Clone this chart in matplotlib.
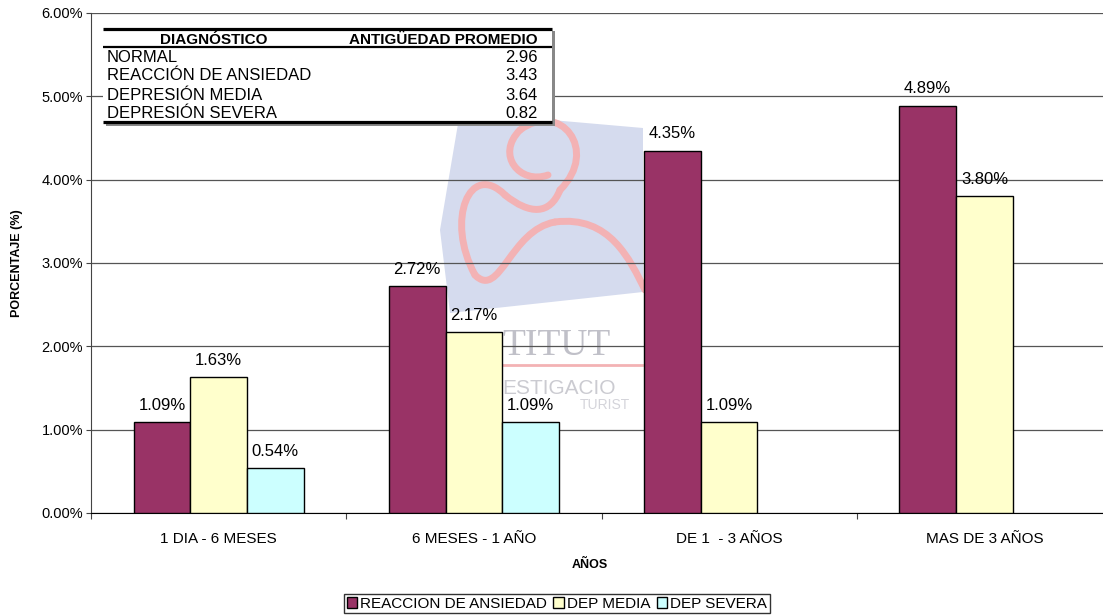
import numpy as np
import matplotlib.pyplot as plt
from matplotlib.patches import Polygon, Rectangle, PathPatch
from matplotlib.path import Path
from matplotlib.ticker import FuncFormatter, FixedLocator

plt.rcParams['font.family'] = ['Liberation Sans', 'DejaVu Sans']

# datos
categorias = ['1 DIA - 6 MESES', '6 MESES - 1 AÑO', 'DE 1  - 3 AÑOS', 'MAS DE 3 AÑOS']
reaccion_ansiedad = [1.09, 2.72, 4.35, 4.89]
dep_media = [1.63, 2.17, 1.09, 3.80]
dep_severa = [0.54, 1.09, np.nan, np.nan]
series_nombres = ['REACCION DE ANSIEDAD', 'DEP MEDIA', 'DEP SEVERA']
colores = ['#993366', '#FFFFCC', '#CCFFFF']

diagnosticos = ['NORMAL', 'REACCIÓN DE ANSIEDAD', 'DEPRESIÓN MEDIA', 'DEPRESIÓN SEVERA']
antiguedad = [2.96, 3.43, 3.64, 0.82]

W, H = 1103, 616
fig = plt.figure(figsize=(W / 100, H / 100), dpi=100)

# fondo con marca de agua (coordenadas en pixeles)
bg = fig.add_axes([0, 0, 1, 1], zorder=0)
bg.set_xlim(0, W)
bg.set_ylim(H, 0)
bg.axis('off')
bg.add_patch(Polygon([(460, 112), (643, 128), (643, 292), (450, 313), (440, 230)],
                     closed=True, fc='#d5dbee', ec='none'))
rosa = '#f3b2b4'
curvas = [
    [(Path.MOVETO, (560, 190)), (Path.CURVE4, (600, 150)), (Path.CURVE4, (560, 100)),
     (Path.CURVE4, (520, 130))],
    [(Path.MOVETO, (520, 130)), (Path.CURVE4, (495, 155)), (Path.CURVE4, (520, 185)),
     (Path.CURVE4, (548, 175))],
    [(Path.MOVETO, (560, 190)), (Path.CURVE4, (550, 215)), (Path.CURVE4, (530, 215)),
     (Path.CURVE4, (505, 195))],
    [(Path.MOVETO, (505, 195)), (Path.CURVE4, (470, 160)), (Path.CURVE4, (445, 220)),
     (Path.CURVE4, (475, 275))],
    [(Path.MOVETO, (475, 275)), (Path.CURVE4, (500, 300)), (Path.CURVE4, (510, 230)),
     (Path.CURVE4, (555, 222))],
    [(Path.MOVETO, (555, 222)), (Path.CURVE4, (610, 215)), (Path.CURVE4, (630, 260)),
     (Path.CURVE4, (645, 290))],
]
for c in curvas:
    codes, verts = zip(*c)
    bg.add_patch(PathPatch(Path(verts, codes), fc='none', ec=rosa, lw=5,
                           capstyle='round', joinstyle='round'))
bg.text(502, 346, 'TITUT', family='Liberation Serif', fontsize=27, color='#c0c0c8',
        ha='left', va='center')
bg.plot([500, 642], [365, 365], color=rosa, lw=2)
bg.text(502, 388, 'ESTIGACIO', fontsize=15, color='#cbcbd1', ha='left', va='center')
bg.text(580, 405, 'TURIST', fontsize=10, color='#d4d4da', ha='left', va='center')

# grafico principal
ax = fig.add_axes([91 / W, (H - 513) / H, (1112 - 91) / W, 500 / H], zorder=1)
ax.patch.set_alpha(0)

x = np.arange(len(categorias))
ancho = 1 / 4.5
for i, (vals, nombre, col) in enumerate(zip([reaccion_ansiedad, dep_media, dep_severa],
                                              series_nombres, colores)):
    pos = x + (i - 1) * ancho
    ax.bar(pos, vals, ancho, color=col, edgecolor='black', linewidth=1,
           label=nombre, zorder=3)
    for xp, v in zip(pos, vals):
        if not np.isnan(v):
            ax.annotate(f'{v:.2f}%', (xp, v), xytext=(0, 6.5), textcoords='offset points',
                        ha='center', va='bottom', fontsize=12, zorder=4)

ax.set_xlim(-0.5, len(categorias) - 0.5)
ax.set_ylim(0, 6)
ax.set_yticks(np.arange(0, 7, 1))
ax.yaxis.set_major_formatter(FuncFormatter(lambda v, p: f'{v:.2f}%'))
ax.yaxis.grid(True, color='#555555', linewidth=0.9, zorder=1)
ax.set_axisbelow(True)

ax.set_xticks(x)
ax.set_xticklabels(categorias, fontsize=11)
ax.tick_params(axis='x', which='major', length=0, pad=14)
ax.xaxis.set_minor_locator(FixedLocator(np.arange(-0.5, len(categorias), 1)))
ax.tick_params(axis='x', which='minor', length=4, width=0.8, color='#444444')
ax.tick_params(axis='y', length=3.6, width=0.8, color='#444444', labelsize=10.5, pad=2)

for s in ['top', 'right']:
    ax.spines[s].set_visible(False)
ax.spines['left'].set_color('#444444')
ax.spines['bottom'].set_color('black')

ax.set_xlabel('AÑOS', fontsize=9, fontweight='bold')
ax.set_ylabel('PORCENTAJE (%)', fontsize=9, fontweight='bold')
ax.xaxis.set_label_coords((590 - 91) / (1112 - 91), -0.092)
ax.yaxis.set_label_coords(-(91 - 23) / (1112 - 91), 0.5)

fig.legend(loc='center', bbox_to_anchor=(557 / W, (H - 603.5) / H), ncol=3,
           fontsize=11, frameon=True, fancybox=False, edgecolor='black',
           handlelength=0.7, handleheight=0.7, handletextpad=0.2, columnspacing=0.4,
           borderpad=0.15, borderaxespad=0)

# tabla de antigüedad
top = fig.add_axes([0, 0, 1, 1], zorder=5)
top.set_xlim(0, W)
top.set_ylim(H, 0)
top.axis('off')
top.add_patch(Rectangle((106, 31), 449, 95, fc='#888888', ec='none'))
top.add_patch(Rectangle((103, 27), 449, 96, fc='white', ec='none'))
top.plot([103, 552], [29, 29], color='black', lw=2.3, solid_capstyle='butt')
top.plot([103, 552], [47, 47], color='black', lw=1.6, solid_capstyle='butt')
top.plot([103, 552], [122, 122], color='black', lw=2.3, solid_capstyle='butt')
top.text(214, 38, 'DIAGNÓSTICO', fontsize=11, fontweight='bold', ha='center',
         va='center_baseline')
top.text(538, 38, 'ANTIGÜEDAD PROMEDIO', fontsize=11, fontweight='bold',
         ha='right', va='center_baseline')
for k, (d, a) in enumerate(zip(diagnosticos, antiguedad)):
    yy = 57 + 19 * k
    top.text(107, yy, d, fontsize=12, ha='left', va='center')
    top.text(538, yy, f'{a:.2f}', fontsize=12, ha='right', va='center')

fig.savefig('out.png', dpi=100)
